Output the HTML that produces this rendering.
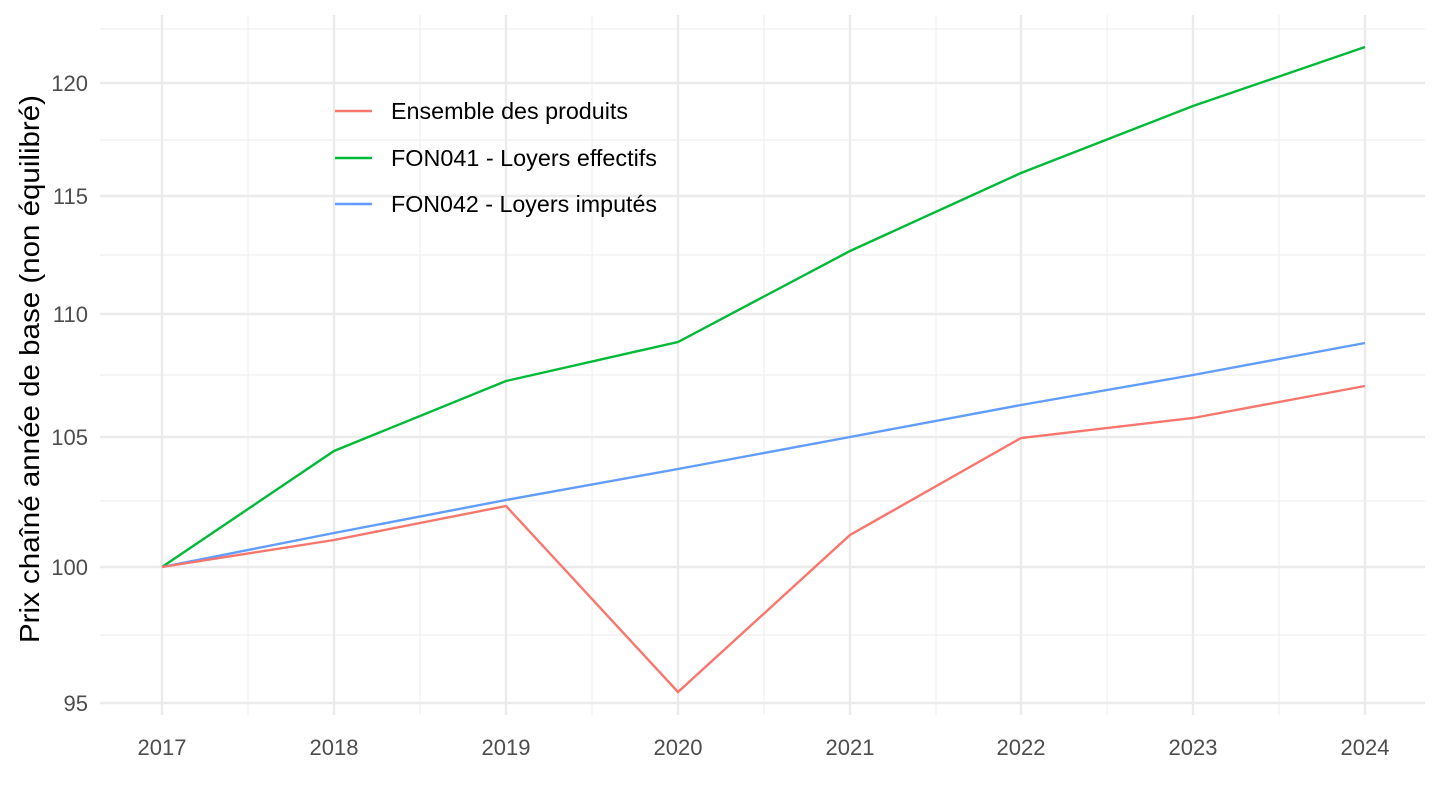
<!DOCTYPE html>
<html><head><meta charset="utf-8"><style>body{margin:0;background:#fff}svg{display:block}</style></head><body>
<svg width="1440" height="810" xmlns="http://www.w3.org/2000/svg" font-family="Liberation Sans, sans-serif">
<g stroke="#efefef" stroke-width="1.2">
<line x1="100" x2="1425" y1="635" y2="635"/><line x1="100" x2="1425" y1="501" y2="501"/><line x1="100" x2="1425" y1="375" y2="375"/><line x1="100" x2="1425" y1="255" y2="255"/><line x1="100" x2="1425" y1="140" y2="140"/><line x1="100" x2="1425" y1="29" y2="29"/>
<line y1="15" y2="715" x1="248" x2="248"/><line y1="15" y2="715" x1="420" x2="420"/><line y1="15" y2="715" x1="592" x2="592"/><line y1="15" y2="715" x1="764" x2="764"/><line y1="15" y2="715" x1="936" x2="936"/><line y1="15" y2="715" x1="1107" x2="1107"/><line y1="15" y2="715" x1="1279" x2="1279"/>
</g>
<g stroke="#ebebeb" stroke-width="2.4">
<line x1="100" x2="1425" y1="703" y2="703"/><line x1="100" x2="1425" y1="567" y2="567"/><line x1="100" x2="1425" y1="437" y2="437"/><line x1="100" x2="1425" y1="314" y2="314"/><line x1="100" x2="1425" y1="196" y2="196"/><line x1="100" x2="1425" y1="83" y2="83"/>
<line y1="15" y2="715" x1="162" x2="162"/><line y1="15" y2="715" x1="334" x2="334"/><line y1="15" y2="715" x1="506" x2="506"/><line y1="15" y2="715" x1="678" x2="678"/><line y1="15" y2="715" x1="850" x2="850"/><line y1="15" y2="715" x1="1021" x2="1021"/><line y1="15" y2="715" x1="1193" x2="1193"/><line y1="15" y2="715" x1="1365" x2="1365"/>
</g>
<g fill="none" stroke-width="2.4">
<polyline stroke="#00ba38" points="162,567 334,451 506,381 678,342 850,251 1021,173 1193,106 1365,47"/>
<polyline stroke="#619cff" points="162,567 334,533 506,500 678,469 850,437 1021,405 1193,375 1365,343"/>
<polyline stroke="#f8766d" points="162,567 334,540 506,506 678,692 850,535 1021,438 1193,418 1365,386"/>
</g>
<g font-size="22" fill="#4d4d4d" text-anchor="end">
<text x="88" y="711">95</text><text x="88" y="575">100</text><text x="88" y="445">105</text><text x="88" y="322">110</text><text x="88" y="204">115</text><text x="88" y="91">120</text>
</g>
<g font-size="22" fill="#4d4d4d" text-anchor="middle">
<text x="162" y="755">2017</text><text x="334" y="755">2018</text><text x="506" y="755">2019</text><text x="678" y="755">2020</text><text x="850" y="755">2021</text><text x="1021" y="755">2022</text><text x="1193" y="755">2023</text><text x="1365" y="755">2024</text>
</g>
<text transform="translate(39,369) rotate(-90)" font-size="28" text-anchor="middle" fill="#000" textLength="548" lengthAdjust="spacingAndGlyphs">Prix chaîné année de base (non équilibré)</text>
<g stroke-width="2.4">
<line x1="335" x2="372" y1="111" y2="111" stroke="#f8766d"/><line x1="335" x2="372" y1="158" y2="158" stroke="#00ba38"/><line x1="335" x2="372" y1="204" y2="204" stroke="#619cff"/>
</g>
<g font-size="23" fill="#000">
<text x="391" y="119" textLength="237" lengthAdjust="spacingAndGlyphs">Ensemble des produits</text><text x="391" y="166" textLength="266" lengthAdjust="spacingAndGlyphs">FON041 - Loyers effectifs</text><text x="391" y="212" textLength="266" lengthAdjust="spacingAndGlyphs">FON042 - Loyers imputés</text>
</g>
</svg>
</body></html>
